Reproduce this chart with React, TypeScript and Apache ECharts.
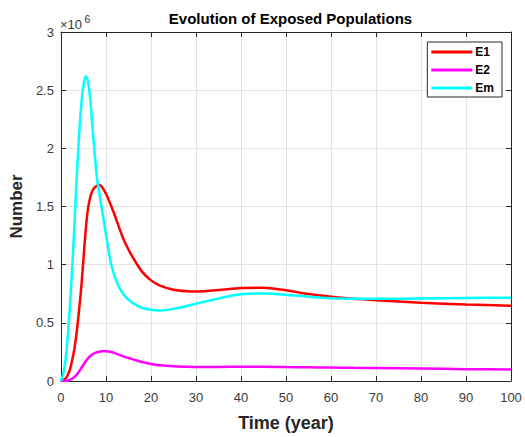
import React, { useEffect, useRef } from "react";
import * as echarts from "echarts";

const TIME = [0, 0.5, 1, 1.5, 2, 2.5, 3, 3.5, 4, 4.5, 5, 5.5, 6, 6.5, 7, 7.5, 8, 8.5, 9, 10, 11, 12, 13, 14, 15, 16, 18, 20, 22, 25, 28, 30, 35, 40, 45, 50, 55, 60, 65, 70, 80, 90, 100];
// values in millions
const E1 = [0, 0.005, 0.02, 0.05, 0.1, 0.18, 0.28, 0.42, 0.6, 0.8, 1.05, 1.3, 1.48, 1.58, 1.635, 1.665, 1.68, 1.685, 1.675, 1.61, 1.52, 1.42, 1.31, 1.21, 1.13, 1.06, 0.94, 0.865, 0.82, 0.785, 0.772, 0.77, 0.782, 0.8, 0.802, 0.78, 0.748, 0.725, 0.706, 0.695, 0.672, 0.658, 0.647];
const E2 = [0, 0, 0.002, 0.005, 0.01, 0.02, 0.035, 0.055, 0.08, 0.11, 0.14, 0.17, 0.195, 0.215, 0.23, 0.24, 0.247, 0.252, 0.255, 0.256, 0.252, 0.24, 0.225, 0.21, 0.198, 0.186, 0.163, 0.146, 0.135, 0.126, 0.122, 0.12, 0.121, 0.123, 0.123, 0.12, 0.118, 0.116, 0.113, 0.111, 0.107, 0.102, 0.098];
const EM = [0, 0.06, 0.18, 0.38, 0.65, 0.98, 1.35, 1.75, 2.1, 2.37, 2.54, 2.62, 2.58, 2.42, 2.18, 1.95, 1.74, 1.62, 1.5, 1.26, 1.03, 0.89, 0.8, 0.74, 0.7, 0.67, 0.63, 0.612, 0.607, 0.62, 0.645, 0.665, 0.71, 0.745, 0.752, 0.742, 0.725, 0.712, 0.706, 0.706, 0.71, 0.714, 0.716];

const SERIES_NAMES = ["E1", "E2", "Em"];
const SERIES_COLORS = ["#ff0000", "#ff00ff", "#00ffff"];
const SERIES_DATA = [E1, E2, EM];
const SCALE = 1e6;

const AXIS_COLOR = "#262626";
const FONT = "'Liberation Sans', Arial, Helvetica, sans-serif";

export default function App() {
  const ref = useRef<HTMLDivElement>(null);
  useEffect(() => {
    if (!ref.current) return;
    const chart = echarts.init(ref.current, null, { renderer: "svg" });
    const series = SERIES_NAMES.map((name, i) => ({
      name,
      type: "line",
      xAxisIndex: 0,
      yAxisIndex: 0,
      data: TIME.map((t, j) => [t, SERIES_DATA[i][j] * SCALE]),
      smooth: 0.25,
      showSymbol: false,
      symbol: "none",
      lineStyle: { color: SERIES_COLORS[i], width: 2.5 },
      itemStyle: { color: SERIES_COLORS[i] },
      z: 3 + i,
    }));
    const commonX = {
      type: "value",
      min: 0,
      max: 100,
      interval: 10,
    };
    const commonY = {
      type: "value",
      min: 0,
      max: 3e6,
      interval: 5e5,
    };
    chart.setOption({
      animation: false,
      backgroundColor: "#ffffff",
      textStyle: { fontFamily: FONT },
      title: {
        text: "Evolution of Exposed Populations",
        left: 285.5,
        textAlign: "center",
        top: 6,
        textStyle: { fontFamily: FONT, fontWeight: "bold", fontSize: 15, color: "#000" },
      },
      grid: { left: 60, top: 32, width: 451, height: 353.5, containLabel: false },
      legend: {
        data: SERIES_NAMES.map((n) => ({ name: n, icon: "rect" })),
        orient: "vertical",
        right: 23,
        top: 42,
        itemWidth: 41,
        itemHeight: 3,
        itemGap: 4,
        padding: [3, 8, 2, 4],
        borderColor: AXIS_COLOR,
        borderWidth: 1,
        borderRadius: 0,
        backgroundColor: "#ffffff",
        selectedMode: false,
        textStyle: { fontFamily: FONT, fontWeight: "bold", fontSize: 12, color: "#000", lineHeight: 14, padding: [0, 0, 0, -2] },
      },
      xAxis: [
        {
          ...commonX,
          position: "bottom",
          name: "Time (year)",
          nameLocation: "middle",
          nameGap: 33,
          nameTextStyle: { fontFamily: FONT, fontWeight: "bold", fontSize: 18, color: "#262626" },
          axisLine: { show: true, onZero: false, lineStyle: { color: AXIS_COLOR, width: 1 } },
          axisTick: { show: true, inside: true, length: 5, lineStyle: { color: AXIS_COLOR } },
          axisLabel: { fontFamily: FONT, fontSize: 13, color: "#3a3a3a", margin: 10 },
          splitLine: { show: true, lineStyle: { color: "#e3e3e3", width: 1 } },
        },
        {
          ...commonX,
          position: "top",
          axisLine: { show: true, onZero: false, lineStyle: { color: AXIS_COLOR, width: 1 } },
          axisTick: { show: true, inside: true, length: 5, lineStyle: { color: AXIS_COLOR } },
          axisLabel: { show: false },
          splitLine: { show: false },
        },
      ],
      yAxis: [
        {
          ...commonY,
          position: "left",
          name: "Number",
          nameLocation: "middle",
          nameGap: 27,
          nameRotate: 90,
          nameTextStyle: { fontFamily: FONT, fontWeight: "bold", fontSize: 17, color: "#262626" },
          axisLine: { show: true, onZero: false, lineStyle: { color: AXIS_COLOR, width: 1 } },
          axisTick: { show: true, inside: true, length: 5, lineStyle: { color: AXIS_COLOR } },
          axisLabel: {
            fontFamily: FONT,
            fontSize: 13,
            color: "#3a3a3a",
            margin: 7,
            formatter: (v: number) => String(v / SCALE),
          },
          splitLine: { show: true, lineStyle: { color: "#e3e3e3", width: 1 } },
        },
        {
          ...commonY,
          position: "right",
          axisLine: { show: true, onZero: false, lineStyle: { color: AXIS_COLOR, width: 1 } },
          axisTick: { show: true, inside: true, length: 5, lineStyle: { color: AXIS_COLOR } },
          axisLabel: { show: false },
          splitLine: { show: false },
        },
      ],
      graphic: [
        {
          type: "text",
          x: 60,
          y: 24,
          style: {
            text: "×10",
            fontFamily: FONT,
            fontSize: 13,
            fill: "#3a3a3a",
            verticalAlign: "middle",
          },
        },
        {
          type: "text",
          x: 84.5,
          y: 18.5,
          style: {
            text: "6",
            fontFamily: FONT,
            fontSize: 10.5,
            fill: "#3a3a3a",
            verticalAlign: "middle",
          },
        },
      ],
      series,
    });
    return () => chart.dispose();
  }, []);
  return (
    <div
      ref={ref}
      style={{ position: "fixed", left: 0, top: 0, width: 525, height: 437, background: "#fff" }}
    />
  );
}
